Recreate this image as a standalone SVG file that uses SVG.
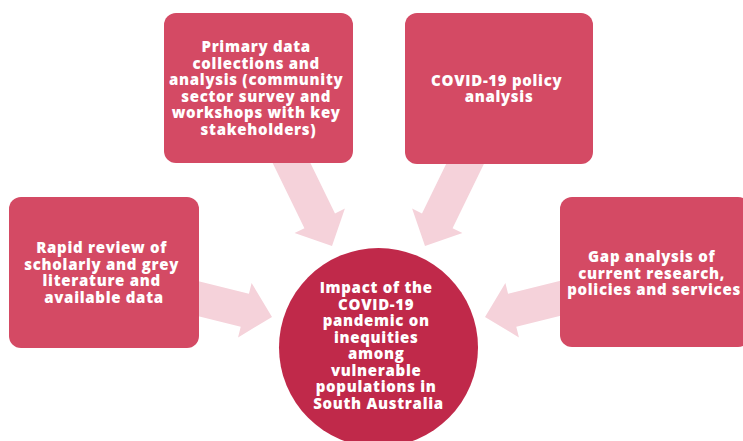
<svg xmlns="http://www.w3.org/2000/svg" xmlns:xlink="http://www.w3.org/1999/xlink" width="743" height="441" viewBox="0 0 743 441">
  <style>
    .box { fill: #D44A64; }
    .hub { fill: #C0294A; }
    .arrow { fill: #F5D2DA; }
    .label { fill: #FFFFFF; font-family: "Open Sans", "Liberation Sans", sans-serif; font-weight: 800; font-size: 15px; letter-spacing: 0.7px; text-anchor: middle; }
  </style>
  <defs>
    <!-- block arrow pointing right, tip at the origin -->
    <polygon id="blockArrow" points="0,0 -28,-28 -28,-17 -110,-17 -110,17 -28,17 -28,28"/>
  </defs>
  <rect width="743" height="441" fill="#FFFFFF"/>

  <g id="connectors" class="arrow">
    <use xlink:href="#blockArrow" transform="translate(272,317) rotate(14)"/>
    <use xlink:href="#blockArrow" transform="translate(332,246) rotate(64)"/>
    <use xlink:href="#blockArrow" transform="translate(425,246) rotate(116)"/>
    <use xlink:href="#blockArrow" transform="translate(485,317) rotate(166)"/>
  </g>

  <g id="rapid-review">
    <rect class="box" x="9" y="197" width="190" height="151" rx="12"/>
    <text class="label">
      <tspan x="104" y="253">Rapid review of</tspan>
      <tspan x="104" y="269.5">scholarly and grey</tspan>
      <tspan x="104" y="286">literature and</tspan>
      <tspan x="104" y="302.5">available data</tspan>
    </text>
  </g>

  <g id="primary-data">
    <rect class="box" x="164" y="13" width="189" height="150" rx="12"/>
    <text class="label">
      <tspan x="258.5" y="52">Primary data</tspan>
      <tspan x="258.5" y="68.5">collections and</tspan>
      <tspan x="258.5" y="85">analysis (community</tspan>
      <tspan x="258.5" y="101.5">sector survey and</tspan>
      <tspan x="258.5" y="118">workshops with key</tspan>
      <tspan x="258.5" y="134.5">stakeholders)</tspan>
    </text>
  </g>

  <g id="policy-analysis">
    <rect class="box" x="405" y="13" width="188" height="151" rx="12"/>
    <text class="label">
      <tspan x="499" y="86">COVID-19 policy</tspan>
      <tspan x="499" y="102">analysis</tspan>
    </text>
  </g>

  <g id="gap-analysis">
    <rect class="box" x="560" y="197" width="190" height="150" rx="12"/>
    <text class="label">
      <tspan x="654" y="262">Gap analysis of</tspan>
      <tspan x="654" y="278.5">current research,</tspan>
      <tspan x="654" y="295">policies and services</tspan>
    </text>
  </g>

  <g id="impact">
    <circle class="hub" cx="378.5" cy="347.5" r="99.5"/>
    <text class="label">
      <tspan x="378.5" y="293">Impact of the</tspan>
      <tspan x="378.5" y="309.5">COVID-19</tspan>
      <tspan x="378.5" y="326">pandemic on</tspan>
      <tspan x="378.5" y="342.5">inequities</tspan>
      <tspan x="378.5" y="359">among</tspan>
      <tspan x="378.5" y="375.5">vulnerable</tspan>
      <tspan x="378.5" y="392">populations in</tspan>
      <tspan x="378.5" y="408.5">South Australia</tspan>
    </text>
  </g>
</svg>
